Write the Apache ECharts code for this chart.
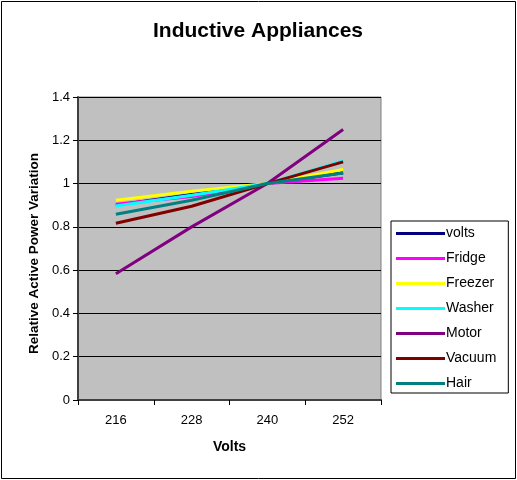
<!DOCTYPE html>
<html>
<head>
<meta charset="utf-8">
<script src="https://cdn.jsdelivr.net/npm/echarts@6/dist/echarts.min.js"></script>
<style>
  html, body { margin: 0; padding: 0; background: #fff; }
  #chart { width: 517px; height: 480px; }
</style>
</head>
<body>
<div id="chart"></div>
<script>
// Supply voltage steps (V)
const voltages = ['216', '228', '240', '252'];

// Active power relative to the 240 V value
const volts   = [0.90, 0.95, 1.00, 1.05];
const fridge  = [0.905, 0.94, 1.00, 1.025];
const freezer = [0.923, 0.965, 1.00, 1.065];
const washer  = [0.896, 0.946, 1.00, 1.105];
const motor   = [0.583, 0.80, 1.00, 1.25];
const vacuum  = [0.817, 0.895, 1.00, 1.10];
const hair    = [0.858, 0.923, 1.00, 1.049];

const seriesNames  = ['volts', 'Fridge', 'Freezer', 'Washer', 'Motor', 'Vacuum', 'Hair'];
const seriesData   = [volts, fridge, freezer, washer, motor, vacuum, hair];
const seriesColors = ['#000080', '#ff00ff', '#ffff00', '#00ffff', '#800080', '#800000', '#008080'];

const font = 'Arial, "Liberation Sans", sans-serif';

const chart = echarts.init(document.getElementById('chart'), null, { renderer: 'canvas' });

chart.setOption({
  animation: false,
  backgroundColor: '#ffffff',
  title: {
    text: 'Inductive Appliances',
    left: 253,
    textAlign: 'center',
    top: 16,
    textStyle: { fontFamily: font, fontSize: 21, fontWeight: 'bold', color: '#000' }
  },
  grid: {
    left: 78, top: 97, right: 136, bottom: 80,
    show: true,
    backgroundColor: '#c0c0c0',
    borderColor: '#808080',
    borderWidth: 1
  },
  legend: {
    orient: 'vertical',
    left: 391,
    top: 221,
    padding: [4, 12, 1, 5],
    backgroundColor: '#ffffff',
    borderColor: '#000000',
    borderWidth: 1,
    borderRadius: 0,
    icon: 'rect',
    itemWidth: 49,
    itemHeight: 3,
    itemGap: 8,
    textStyle: {
      fontFamily: font, fontSize: 14, color: '#000',
      padding: [0, 0, 0, -4], lineHeight: 17
    },
    data: seriesNames
  },
  xAxis: {
    type: 'category',
    data: voltages,
    boundaryGap: true,
    name: 'Volts',
    nameLocation: 'middle',
    nameGap: 40,
    nameTextStyle: { fontFamily: font, fontSize: 14, fontWeight: 'bold', color: '#000' },
    axisLine: { lineStyle: { color: '#404040', width: 2 } },
    axisTick: { show: true, length: 5, lineStyle: { color: '#000' } },
    axisLabel: { fontFamily: font, fontSize: 13, color: '#000', margin: 14 },
    splitLine: { show: false }
  },
  yAxis: {
    type: 'value',
    min: 0,
    max: 1.4,
    interval: 0.2,
    name: 'Relative Active Power Variation',
    nameLocation: 'middle',
    nameGap: 36,
    nameRotate: 90,
    nameTextStyle: {
      fontFamily: font, fontSize: 13.5, fontWeight: 'bold', color: '#000',
      padding: [0, 10, 0, 0]
    },
    axisLine: { show: true, lineStyle: { color: '#404040', width: 2 } },
    axisTick: { show: true, length: 5, inside: false, lineStyle: { color: '#000' } },
    axisLabel: {
      fontFamily: font, fontSize: 13, color: '#000', margin: 8,
      formatter: v => String(Math.round(v * 10) / 10)
    },
    splitLine: { show: true, lineStyle: { color: '#000', width: 1 } }
  },
  series: seriesNames.map((name, i) => ({
    name,
    type: 'line',
    data: seriesData[i],
    symbol: 'none',
    showSymbol: false,
    lineStyle: { color: seriesColors[i], width: 3 },
    itemStyle: { color: seriesColors[i] },
    emphasis: { disabled: true }
  })),
  graphic: [{
    type: 'rect',
    shape: { x: 1.5, y: 1.5, width: 514, height: 477 },
    style: { fill: 'none', stroke: '#000', lineWidth: 1 },
    silent: true
  }]
});
</script>
</body>
</html>
